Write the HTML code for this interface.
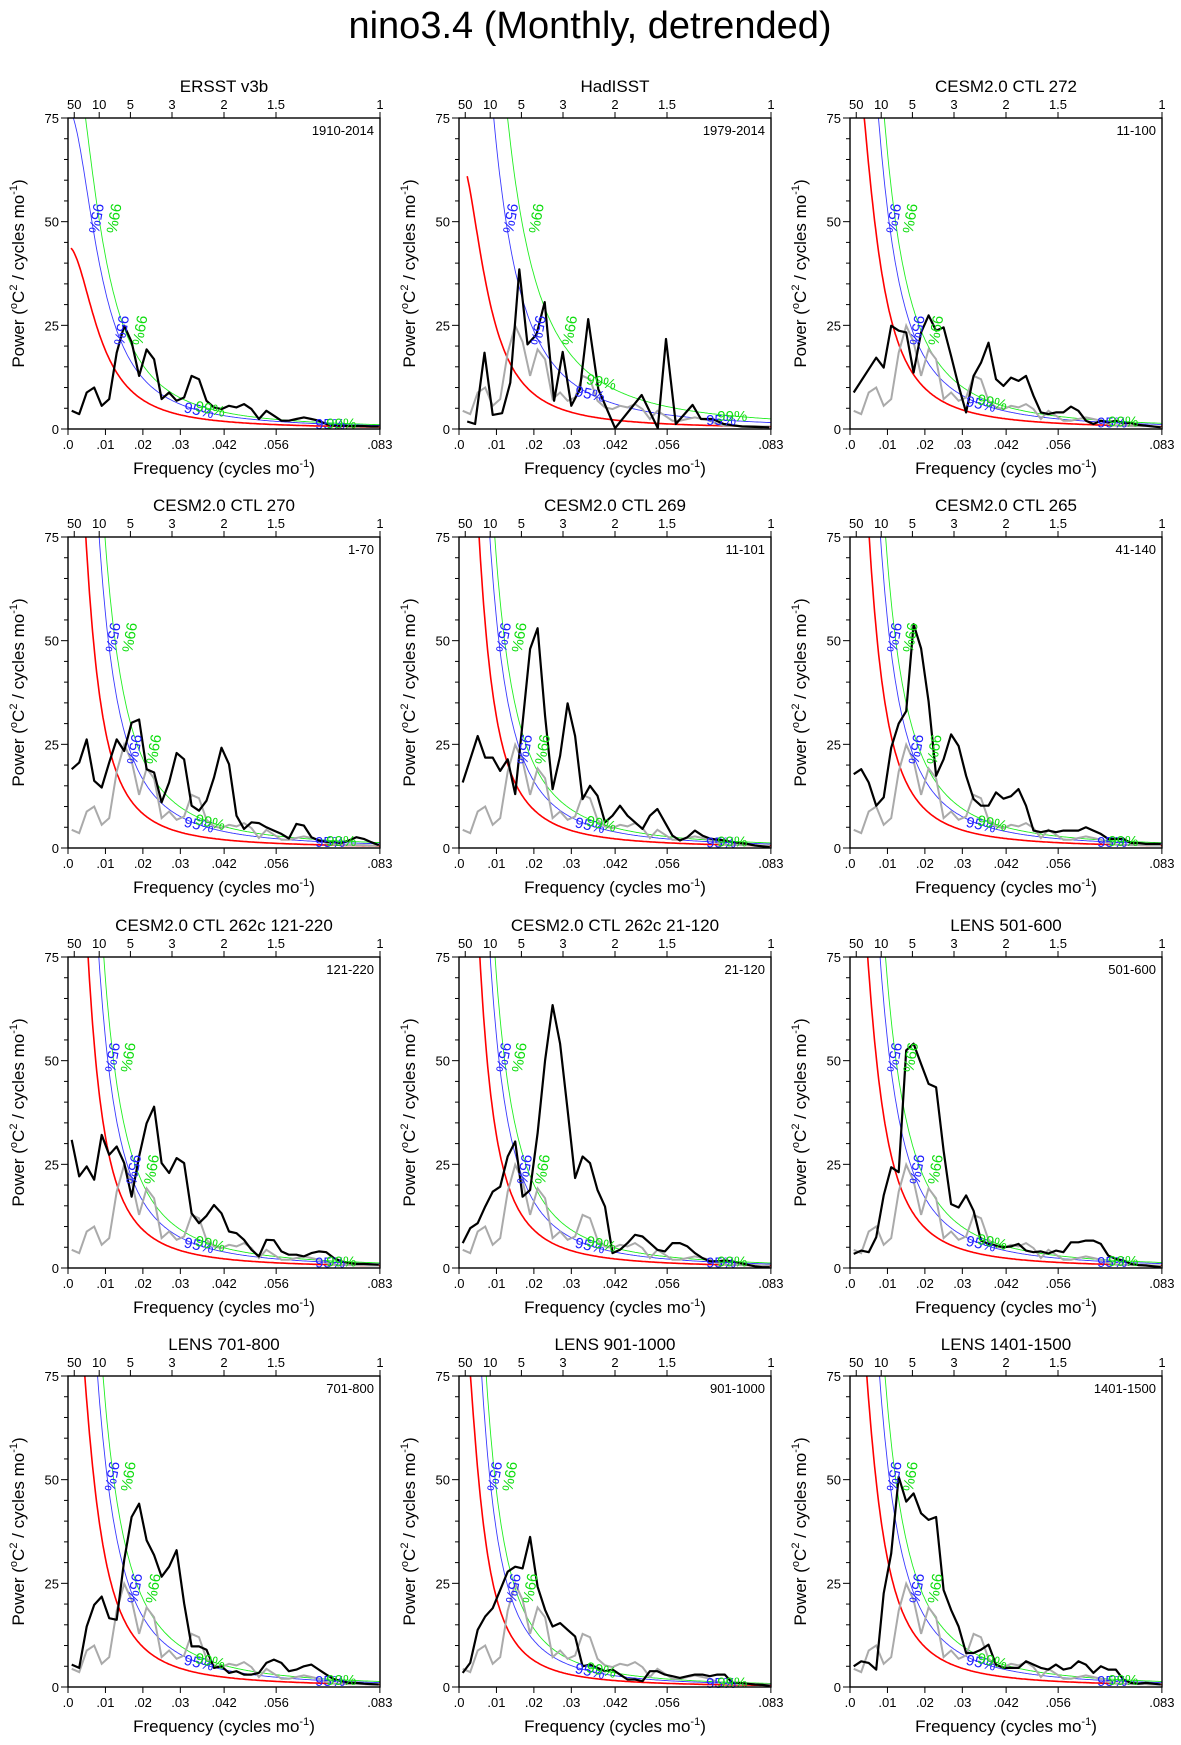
<!DOCTYPE html>
<html><head><meta charset="utf-8"><title>nino3.4 spectra</title>
<style>
html,body{margin:0;padding:0;background:#fff;}
svg{display:block;font-family:"Liberation Sans",Arial,sans-serif;}
</style></head>
<body>
<svg id="fig" width="1181" height="1745" viewBox="0 0 1181 1745" xmlns="http://www.w3.org/2000/svg">
<text x="590" y="38" text-anchor="middle" font-size="38">nino3.4 (Monthly, detrended)</text>
</svg>
<script>
// ---- data ----
const freq = [0.001,0.003,0.005,0.007,0.009,0.011,0.013,0.015,0.017,0.019,0.021,0.023,0.025,0.027,0.029,0.031,0.033,0.035,0.037,0.039,0.041,0.043,0.045,0.047,0.049,0.051,0.053,0.055,0.057,0.059,0.061,0.063,0.065,0.067,0.069,0.071,0.073,0.075,0.077,0.079,0.081,0.083];
const ersst = [4.4,3.6,8.8,10,5.6,7.2,18.4,24.9,21,12.8,19.2,16.8,7.2,8.8,6.8,7.6,12.8,12,6.8,5.2,4.8,5.6,5.2,6,4.8,2.4,4.4,3.2,2,2,2.4,2.8,2.4,2,1.2,0.8,0.8,0.7,0.7,0.7,0.6,0.6];
const hadFreq = [0.0022,0.0043,0.0068,0.009,0.0115,0.0137,0.0161,0.0183,0.0207,0.0229,0.0254,0.0277,0.03,0.0323,0.0345,0.0372,0.0417,0.0488,0.0531,0.0553,0.0579,0.0624,0.0646,0.0677,0.0707,0.0756,0.0829];
const hadisst = [1.8,1.2,18.4,3.4,3.8,11.2,38.5,20.4,22.8,30.6,6.8,18.6,5.6,9.6,26.5,9.6,0.2,8.2,0.2,21.7,1.2,5.8,2.4,2.4,1.2,0.6,0.4];
const ctl272 = [8.8,11.6,14.4,17.2,14.8,24.9,23.7,23.3,13.6,23.3,27.4,23.7,24.5,17.6,10.4,4,12.8,16,20.8,12,10.4,12.4,11.6,12.8,8,4,3.6,4,4,5.4,4.4,2,1.2,2,1.6,2,1.4,1.4,1,0.8,0.6,0.4];
const ctl270 = [19,20.6,26.2,16.2,14.6,20.6,26.2,23.4,30.2,31,19,18.2,11,15.8,22.9,21.4,10.2,9,11.4,17,24.2,20.2,7.8,4.6,6.2,6,5,4.2,3.4,2.3,5.8,5.4,2.6,1.8,1.5,1.4,1.2,1.8,2.6,2.2,1.4,0.7];
const ctl269 = [15.8,21.4,27,21.8,21.8,18.6,21.4,13,30.2,48,53,31.8,14.2,22.2,34.9,27,11.8,15,12.6,6.2,7.8,10.2,7.8,6.2,4.6,7.8,9.4,6.2,3,1.8,2.6,4.2,3,2.3,2,1.8,1.4,1.2,1,0.6,0.4,0.2];
const ctl265 = [17.8,19,15.8,10.2,12.2,24.2,30,33,54,48.1,35.3,17.4,21.4,27.4,24.6,17.4,11.8,10.2,10.2,13.4,11.9,12.5,14.2,10.2,4.2,3.8,4.2,3.8,4.2,4.2,4.2,5,4.2,3.4,2.2,2.2,2.2,1.2,1.2,1,1,1];
const ctl262a = [30.9,22.1,24.5,21.3,32.1,27.3,29.3,25.3,17.2,26.9,34.9,38.9,25.3,22.9,26.5,25.3,13.2,10.8,12.6,15.2,13.2,8.8,8.4,6.8,4.4,2.8,6.8,6.7,4,3.2,3.2,2.8,3.6,4,3.8,2.4,1.6,1.2,1,1,0.9,0.8];
const ctl262b = [6,9.6,10.8,14.8,18.4,19.6,26.9,30.5,17.2,18.8,32.5,50.1,63.4,54.1,38.1,21.7,26.9,25.3,18.8,14.8,3.6,4.4,6,8,7.6,6,4.4,4,6,6,5.2,3.6,2.4,1.6,1.6,1.8,1.6,1.2,0.8,0.4,0.2,0.2];
const lens501 = [3.4,4.2,3.8,7.4,17.5,24.3,23.1,52.5,54.1,49.2,44.4,43.6,28.3,15.4,14.6,17.5,13.8,6.6,5.8,5.4,5,5.2,5.8,4.2,3.8,4,3.5,4.2,3.8,6.2,6.2,6.6,6.6,5.8,3,2.2,1.8,1,0.7,0.6,0.4,0.2];
const lens701 = [5.4,4.6,14.6,19.8,21.8,16.6,16.2,30.6,41,44.2,35.4,31.8,26.6,29,33,20.2,9.8,9.8,9,4.6,5,3.4,3.8,3,3,3.4,5.8,6.6,5.8,3.8,4.2,5,5.4,4.2,3,1.9,1.4,1,1,0.8,0.7,0.6];
const lens901 = [3.4,5.8,13.8,17,19,23.4,27.8,29,28.6,36.2,24.2,18.6,14.6,15.4,13.8,12.2,5,5.4,4.6,3.8,4.2,3,1.8,1.8,1.4,3.8,3.8,3,2.6,2.2,2.6,3,3,2.6,3,3,1,1,0.8,0.6,0.5,0.3];
const lens1401 = [5,6.2,5.8,4.2,22.6,32.2,35,41.9,46.7,41.9,40.3,41,23.4,18.6,14.6,8.2,8.2,9,10.2,5.4,4.6,4.6,4.6,6.2,5.4,4.6,4.2,5.4,4.2,4.6,6.2,5.4,3.4,5,4.2,4.2,1.8,1,0.8,1,0.8,0.6];
lens1401[6] = 50.7; lens1401[7] = 44.7;
const panelTitles = ["ERSST v3b","HadISST","CESM2.0 CTL 272","CESM2.0 CTL 270","CESM2.0 CTL 269","CESM2.0 CTL 265","CESM2.0 CTL 262c 121-220","CESM2.0 CTL 262c 21-120","LENS 501-600","LENS 701-800","LENS 901-1000","LENS 1401-1500"];
const cornerLabels = ["1910-2014","1979-2014","11-100","1-70","11-101","41-140","121-220","21-120","501-600","701-800","901-1000","1401-1500"];
const redS0 = [44,66,100,146,169,148,169,190,125,117,101,117];
const redFc = [0.0087,0.00766,0.0066,0.0049,0.0048,0.0052,0.0048,0.0045,0.0058,0.006,0.0052,0.006];
const k95 = [1.75,2.8,1.75,2.0,1.75,1.75,1.75,1.75,1.75,1.75,1.75,1.75];
const k99 = [2.2,4.4,2.2,2.6,2.2,2.2,2.2,2.2,2.2,2.2,2.2,2.2];
const topTickPeriods = [50,10,5,3,2,1.5,1];
const topTickLabels = ["50","10","5","3","2","1.5","1"];
const bottomTickValues = [0,0.01,0.02,0.03,0.0417,0.0556,0.0833];
const bottomTickLabels = [".0",".01",".02",".03",".042",".056",".083"];
const yTickValues = [0,25,50,75];
const yTickLabels = ["0","25","50","75"];
const panelSeries = [ersst,hadisst,ctl272,ctl270,ctl269,ctl265,ctl262a,ctl262b,lens501,lens701,lens901,lens1401];

// ---- drawing ----
const NS = "http://www.w3.org/2000/svg";
const svg = document.getElementById("fig");
const BX = [68,459,850], BY = [118,537,957,1376], BW = 312, BH = 311;
const FMAX = 1/12, YMAX = 75;
function mk(tag, attrs, parent){ const e=document.createElementNS(NS,tag); for(const k in attrs) e.setAttribute(k,attrs[k]); (parent||svg).appendChild(e); return e; }

for (let p=0;p<12;p++){
  const x0 = BX[p%3], y0 = BY[Math.floor(p/3)];
  const sx = f => x0 + f/FMAX*BW;
  const sy = v => y0 + BH - v/YMAX*BH;
  const g = mk("g",{});
  
  
  const clip = mk("clipPath",{id:"clip"+p},g);
  mk("rect",{x:x0,y:y0,width:BW,height:BH},clip);
  const plot = mk("g",{"clip-path":"url(#clip"+p+")"},g);
  // red noise + significance
  const S0=redS0[p], fc=redFc[p];
  const red = f => S0/(1+(f/fc)*(f/fc));
  const curves = [[1,"#ff0000",1.6,"red-noise-curve"],[k95[p],"#3a3aff",0.9,"confidence-95-curve"],[k99[p],"#22ee22",0.9,"confidence-99-curve"]];
  curves.forEach(c=>{
    let d=""; const fstart = p===1?0.0022:0.0008;
    for(let i=0;i<=300;i++){ const f=fstart+(FMAX-fstart)*i/300; const v=Math.min(c[0]*red(f),200); d+=(i?"L":"M")+sx(f).toFixed(1)+","+sy(v).toFixed(1); }
    const pa = mk("path",{d:d,fill:"none",stroke:c[1],"stroke-width":c[2]},plot);
    
    
  });
  // gray ERSST reference
  if (p>0){
    let d=""; ersst.forEach((v,i)=>{ d+=(i?"L":"M")+sx(freq[i]).toFixed(1)+","+sy(v).toFixed(1); });
    const gl = mk("path",{d:d,fill:"none",stroke:"#aaaaaa","stroke-width":2},plot);
    
    
  }
  // black spectrum
  {
    const vals = panelSeries[p]; const fr = p===1?hadFreq:freq;
    let d=""; vals.forEach((v,i)=>{ d+=(i?"L":"M")+sx(fr[i]).toFixed(1)+","+sy(v).toFixed(1); });
    const bl = mk("path",{d:d,fill:"none",stroke:"#000","stroke-width":2.2,"stroke-linejoin":"round"},plot);
    
    
  }
  // percent labels
  [[k95[p],"#2020ff","95%",0],[k99[p],"#10dd10","99%",1]].forEach(L=>{
    const k=L[0];
    [51,24].forEach(v=>{
      const f = fc*Math.sqrt(Math.max(k*S0/v-1,0));
      const t = mk("text",{x:sx(f)+L[3]*10,y:sy(v),"font-size":15,fill:L[1],"text-anchor":"middle",transform:"rotate(100 "+(sx(f)+L[3]*10)+" "+sy(v)+")"},g);
      t.textContent=L[2];
      
      
    });
    [[0.035,12],[0.07,0]].forEach(q=>{
      const f=q[0]+L[3]*0.003;
      const t = mk("text",{x:sx(f),y:sy(k*red(f))+5,"font-size":15,fill:L[1],"text-anchor":"middle",transform:"rotate("+q[1]+" "+sx(f)+" "+sy(k*red(f))+")"},g);
      t.textContent=L[2];
      
      
    });
  });
  // box
  const box = mk("rect",{x:x0,y:y0,width:BW,height:BH,fill:"none",stroke:"#000","stroke-width":1.4},g);
  
  
  // y ticks
  for(let v=0;v<=75;v+=5){ const major=v%25===0; mk("line",{x1:x0,x2:x0-(major?7:4),y1:sy(v),y2:sy(v),stroke:"#000","stroke-width":1},g); }
  yTickValues.forEach((v,i)=>{ const t=mk("text",{x:x0-9,y:sy(v)+5,"font-size":13,"text-anchor":"end"},g); t.textContent=yTickLabels[i];
    
     });
  // bottom ticks
  bottomTickValues.forEach((f,i)=>{ mk("line",{x1:sx(f),x2:sx(f),y1:y0+BH,y2:y0+BH+6,stroke:"#000","stroke-width":1},g);
    const t=mk("text",{x:sx(f),y:y0+BH+20,"font-size":13,"text-anchor":"middle"},g); t.textContent=bottomTickLabels[i];
    
     });
  // top ticks
  topTickPeriods.forEach((P,i)=>{ const f=1/(12*P); mk("line",{x1:sx(f),x2:sx(f),y1:y0,y2:y0-6,stroke:"#000","stroke-width":1},g);
    const t=mk("text",{x:sx(f),y:y0-9,"font-size":13,"text-anchor":"middle"},g); t.textContent=topTickLabels[i];
    
     });
  // titles
  const ti=mk("text",{x:x0+BW/2,y:y0-26,"font-size":17,"text-anchor":"middle"},g); ti.textContent=panelTitles[p];
  
  
  const cl=mk("text",{x:x0+BW-6,y:y0+17,"font-size":13,"text-anchor":"end"},g); cl.textContent=cornerLabels[p];
  
  
  const xt=mk("text",{x:x0+BW/2,y:y0+BH+45,"font-size":17,"text-anchor":"middle"},g);
  xt.innerHTML='Frequency (cycles mo<tspan dy="-7" font-size="11">-1</tspan><tspan dy="7">)</tspan>';
  
  
  const yx=x0-44, yy=y0+BH/2;
  const yt=mk("text",{x:yx,y:yy,"font-size":17,"text-anchor":"middle",transform:"rotate(-90 "+yx+" "+yy+")"},g);
  yt.innerHTML='Power (<tspan dy="-7" font-size="11">o</tspan><tspan dy="7">C</tspan><tspan dy="-7" font-size="11">2</tspan><tspan dy="7"> / cycles mo</tspan><tspan dy="-7" font-size="11">-1</tspan><tspan dy="7">)</tspan>';
  
  
}
</script>
</body></html>
